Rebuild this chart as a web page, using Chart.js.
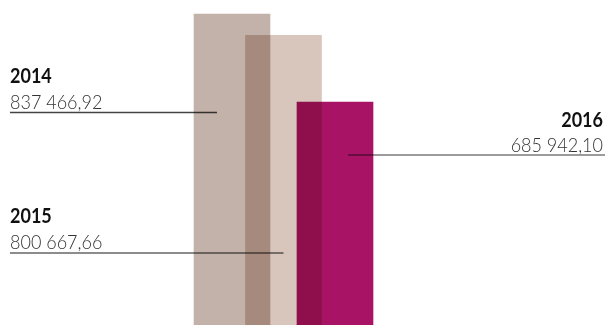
<!DOCTYPE html>
<html>
<head>
<meta charset="utf-8">
<script src="https://cdn.jsdelivr.net/npm/chart.js@4.4.1/dist/chart.umd.min.js"></script>
<style>
  html, body { margin: 0; padding: 0; background: #ffffff; }
  #wrap { width: 605px; height: 325px; position: relative; }
</style>
</head>
<body>
<div id="wrap"><canvas id="chart"></canvas></div>
<script>
const years = ["2014", "2015", "2016"];
const values = [837466.92, 800667.66, 685942.10];
const valueLabels = ["837 466,92", "800 667,66", "685 942,10"];
const barColors = ["#c3b2a9", "#d8c6bd", "#a81366"];

// callout layout: text block + leader line, line end tied to its bar centre
const callouts = [
    { align: "left", textX: 10, yearY: 83, valueY: 109, lineY: 112.5, lineFrom: 10, barOffset: -15, lineColor: "#444444", lineWidth: 1.5 },
    { align: "left", textX: 10, yearY: 223, valueY: 249, lineY: 253, lineFrom: 10, barOffset: 0, lineColor: "#1a1a1a", lineWidth: 1.2 },
    { align: "right", textX: 603, yearY: 127, valueY: 152, lineY: 155, lineTo: 605, barOffset: 13, lineColor: "#7a7a7a", lineWidth: 1.6 },
];
const TEXT_SQUEEZE = 0.9; // narrower face, like the original Gill Sans

const multiplyBars = {
    id: "multiplyBars",
    beforeDatasetsDraw(chart) {
        chart.ctx.save();
        chart.ctx.globalCompositeOperation = "multiply";
    },
    afterDatasetsDraw(chart) {
        chart.ctx.restore();
    },
};

function squeezedText(ctx, text, x, y) {
    ctx.save();
    ctx.translate(x, y);
    ctx.scale(TEXT_SQUEEZE, 1);
    ctx.fillText(text, 0, 0);
    ctx.restore();
}

const calloutPlugin = {
    id: "callouts",
    afterDraw(chart) {
        const ctx = chart.ctx;
        const bars = chart.getDatasetMeta(0).data;
        callouts.forEach((c, i) => {
            const barX = bars[i].x + c.barOffset;
            const from = c.align === "left" ? c.lineFrom : barX;
            const to = c.align === "left" ? barX : c.lineTo;
            ctx.save();
            ctx.globalCompositeOperation = "multiply";
            ctx.strokeStyle = c.lineColor;
            ctx.lineWidth = c.lineWidth;
            ctx.beginPath();
            ctx.moveTo(from, c.lineY);
            ctx.lineTo(to, c.lineY);
            ctx.stroke();
            ctx.restore();

            ctx.save();
            ctx.textAlign = c.align;
            ctx.textBaseline = "alphabetic";
            ctx.fillStyle = "#111111";
            ctx.font = "bold 20px Lato";
            squeezedText(ctx, years[i], c.textX, c.yearY);
            ctx.fillStyle = "#333333";
            ctx.font = "300 20px Lato";
            squeezedText(ctx, valueLabels[i], c.textX, c.valueY);
            ctx.restore();
        });
    },
};

new Chart(document.getElementById("chart"), {
    type: "bar",
    data: {
        datasets: [
            {
                data: years.map((y, i) => ({ x: Number(y), y: values[i] })),
                backgroundColor: barColors,
                borderWidth: 0,
                barThickness: 76,
            },
        ],
    },
    options: {
        responsive: true,
        maintainAspectRatio: false,
        animation: false,
        layout: { padding: 0 },
        scales: {
            x: { type: "linear", display: false, min: 2009.495, max: 2021.243, offset: false },
            y: { display: false, min: 302000, max: 861600 },
        },
        plugins: {
            legend: { display: false },
            tooltip: { enabled: false },
        },
    },
    plugins: [multiplyBars, calloutPlugin],
});
</script>
</body>
</html>
